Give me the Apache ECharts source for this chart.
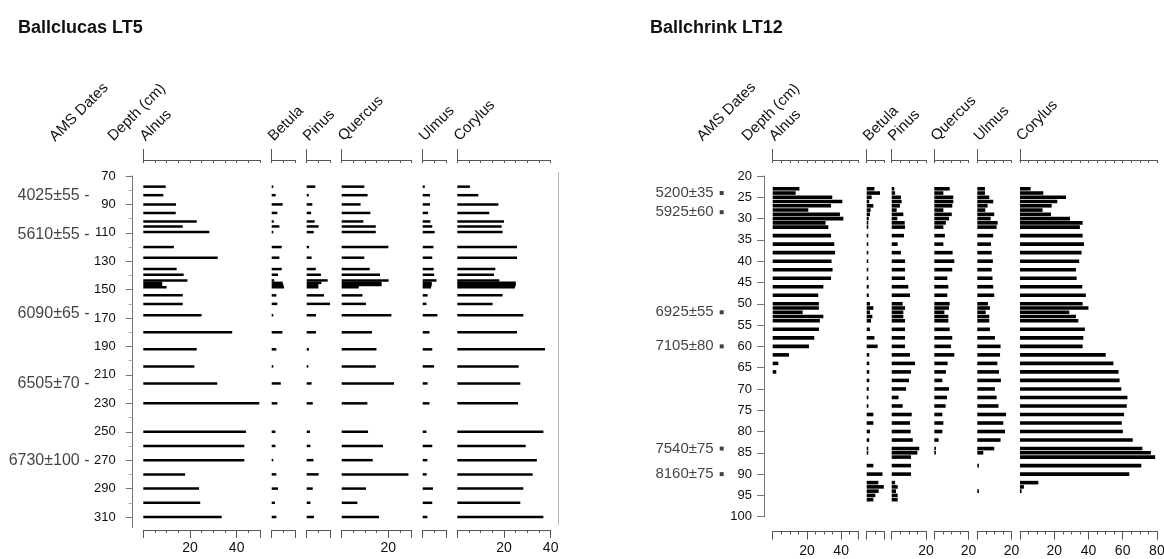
<!DOCTYPE html>
<html><head><meta charset="utf-8">
<script src="https://cdn.jsdelivr.net/npm/echarts@6/dist/echarts.min.js"></script>
<style>html,body{margin:0;padding:0;background:#fff}#c{width:1164px;height:559px}</style>
</head><body><div id="c"></div>
<script>
// ================= DATA =================
const taxa = ['Alnus', 'Betula', 'Pinus', 'Quercus', 'Ulmus', 'Corylus'];

// ---- Ballclucas LT5 ----
const depthsL = [77.5, 83.5, 90, 96, 102, 105.5, 109.5, 120, 127.5, 135.5, 139.5, 143.5, 145.2, 146.7, 148.3, 154, 160, 168, 180, 192, 204, 216, 230, 250, 260, 270, 280, 290, 300, 310];
const alnusL   = [9.6, 8.6, 14, 13.9, 22.9, 16.9, 28.3, 13.1, 31.9, 14.3, 17.3, 18.9, 8.1, 8.1, 10, 16.9, 16.9, 25, 38.1, 22.9, 21.9, 31.7, 49.7, 44, 43.3, 43.3, 17.9, 23.9, 24.4, 33.6];
const betulaL  = [0.7, 1.7, 4.7, 2.4, 0.9, 3.3, 0.7, 4.3, 3.3, 4.3, 2.7, 1.1, 4.7, 5, 5.3, 2, 2.4, 0.6, 4.6, 2, 0.7, 3.9, 2.4, 1.6, 1.6, 0.6, 2, 2.7, 1.4, 2];
const pinusL   = [3.7, 0.9, 2.4, 1.9, 3.4, 5.1, 3, 1, 2.1, 3.9, 6.1, 9, 6.3, 5, 5, 7.4, 10, 4, 4, 1, 0.7, 2.1, 2.6, 1.4, 1.6, 2.9, 5.1, 2.6, 1.6, 3.1];
const quercusL = [9.7, 11.1, 8.1, 12.3, 9.3, 14.6, 14.6, 20, 9.7, 12, 16.4, 20.1, 17.1, 17.1, 7.3, 8.9, 10.4, 21.3, 13, 14.9, 14.6, 22.4, 11, 11.3, 17.7, 13.3, 28.6, 10.4, 6.7, 16];
const ulmusL   = [0.9, 3.1, 3.1, 2.3, 3.3, 4.1, 5.1, 4.6, 4.1, 4.7, 4.9, 5.9, 3.9, 3.9, 3.6, 2.1, 1.6, 6.3, 2.9, 4.1, 4.9, 2.1, 2.9, 1.6, 4.1, 2, 1.7, 4.4, 4.1, 2];
const corylusL = [5.4, 9, 17.6, 13.7, 20, 19, 19.4, 25.6, 25.6, 16.3, 15.7, 18, 25.1, 25.1, 24.7, 19.4, 15.1, 28.3, 25.6, 37.6, 26.3, 27, 26, 36.9, 29.3, 34.1, 32.3, 28.3, 27, 36.9];
const maxL = [50, 10, 10, 30, 10, 40];
const bottomLabelsL = [[20, 40], [], [], [20], [], [20, 40]];
const datesL = ['4025±55', '5610±55', '6090±65', '6505±70', '6730±100'];
const dateDepthsL = [84, 111.5, 167, 216, 270];
const depthLabelsL = [70, 90, 110, 130, 150, 170, 190, 210, 230, 250, 270, 290, 310];
const depthMinorL = [80, 100, 120, 140, 160, 180, 200, 220, 240, 260, 280, 300];

// ---- Ballchrink LT12 ----
const depthsR = [23, 24, 25, 26, 27, 28, 29, 30, 31, 32, 34, 36, 38, 40, 42, 44, 46, 48, 50, 51, 52, 53, 54, 56, 58, 60, 62, 64, 66, 68, 70, 72, 74, 76, 78, 80, 82, 84, 85, 86, 88, 90, 92, 93, 94, 95, 96];
const alnusR   = [15.6, 13.4, 34.8, 40.7, 34.1, 20.8, 39.3, 41.3, 30.9, 32.5, 34.1, 36, 36.4, 34.4, 35, 34.1, 29.6, 26.6, 27, 27, 17.5, 29.6, 27.6, 27, 24.3, 21.2, 9.5, 3.3, 2.1, 0, 0, 0, 0, 0, 0, 0, 0, 0, 0, 0, 0, 0, 0, 0, 0, 0, 0];
const betulaR  = [4.5, 7.8, 2.9, 1.5, 3.9, 2.3, 1.9, 1.2, 0.8, 0.8, 0.8, 0.6, 0.6, 0.6, 0.6, 0.6, 1.2, 1.2, 1.9, 3.9, 1.9, 3.3, 2.5, 1.9, 4.5, 6.4, 1.5, 1.5, 1.5, 1.5, 1.2, 1, 1, 3.9, 3.9, 1.9, 1.5, 0.6, 0.6, 0, 3.9, 9.2, 6.8, 10, 7, 5, 3.9];
const pinusR   = [1.5, 2, 5.4, 5.8, 4.8, 2.9, 6.8, 3.3, 7.6, 7.8, 7.2, 3.5, 5.4, 7.8, 7.8, 7.8, 9.7, 10.7, 6.4, 7.8, 6.8, 6.8, 7.8, 7.8, 7.8, 7.8, 10.7, 13.6, 11.3, 10.1, 8.4, 4, 6.4, 11.7, 10.7, 11.1, 12.3, 16.1, 15, 11.3, 11.3, 11.3, 2, 3.5, 2.5, 3.5, 3.5];
const quercusR = [9, 5.3, 11.1, 11.1, 10.5, 5.3, 10.2, 8.6, 6.8, 5.3, 6.2, 5.3, 10.7, 11.7, 10.5, 7.6, 8.2, 7.6, 9, 8.6, 5.9, 8.2, 8.2, 9, 10.5, 9.7, 11.7, 7.8, 6.8, 4.7, 8.6, 7.4, 6.6, 4.7, 5.3, 4.7, 2.5, 0.6, 0.6, 0, 0, 0, 0, 0, 0, 0, 0];
const ulmusR   = [4.5, 4.5, 7, 9.3, 6, 4.7, 9.9, 7.8, 11.9, 11.3, 9.3, 8, 8.4, 9.1, 8.4, 8.9, 9.3, 9.9, 6.2, 7.4, 4.9, 7, 7, 7.4, 10.3, 13.6, 13.3, 11.7, 12.7, 13.8, 10.3, 11.3, 12.4, 16.8, 15.2, 16.2, 13.6, 9.9, 3.5, 0, 0.5, 0, 0, 0, 0.6, 0, 0];
const corylusR = [6.2, 13.6, 26.9, 21.8, 18.5, 13.2, 18.1, 29.2, 36.6, 35, 36.6, 37.4, 36, 34.6, 32.7, 33.1, 36.4, 38.5, 36.6, 40, 28.8, 32.7, 34.1, 37.9, 37, 36.6, 50.1, 54.6, 57.6, 58.2, 59.2, 62.8, 62.4, 60.8, 59.5, 60.1, 65.9, 71.5, 76.5, 79, 70.9, 63.9, 10.7, 2.3, 0.4, 0, 0];
const maxR = [50, 10, 20, 20, 20, 80];
const bottomLabelsR = [[20, 40], [], [20], [20], [20], [20, 40, 60, 80]];
const datesR = ['5200±35', '5925±60', '6925±55', '7105±80', '7540±75', '8160±75'];
const dateDepthsR = [24, 28.5, 52, 60, 84, 90];
const depthLabelsR = [20, 25, 30, 35, 40, 45, 50, 55, 60, 65, 70, 75, 80, 85, 90, 95, 100];

const titles = ['Ballclucas LT5', 'Ballchrink LT12'];
const headerExtra = ['AMS Dates', 'Depth (cm)'];

// ================= LAYOUT / STYLE =================
const F = 'Liberation Sans, Arial, Helvetica, sans-serif';
const AX = '#555';
const panels = [
  { vals: [alnusL, betulaL, pinusL, quercusL, ulmusL, corylusL], depths: depthsL, max: maxL, labels: bottomLabelsL,
    colLeft: [143.3, 271.7, 306.7, 341.7, 422.7, 457.3], ppp: 2.3334,
    top: 160, bottom: 530, d0: 70, d1: 310, y0: 176, y1: 517, dEnd: 317.5,
    depthX: 132.7, labelMargin: 17, bottomMargin: 11, barH: 2.5,
    dates: datesL, dateDepths: dateDepthsL, dateRight: 90, dateSymbol: false, dateFont: 16,
    depthLabels: depthLabelsL, depthMinor: depthMinorL,
    headerAMS: [57.5, 144.5], headerDepth: [116, 144], title: 18 },
  { vals: [alnusR, betulaR, pinusR, quercusR, ulmusR, corylusR], depths: depthsR, max: maxR, labels: bottomLabelsR,
    colLeft: [772.7, 866.7, 891.7, 934.3, 977.3, 1020], ppp: 1.711,
    top: 160, bottom: 531.5, d0: 20, d1: 100, y0: 176, y1: 516.7, dEnd: 100,
    depthX: 764, labelMargin: 12, bottomMargin: 13, barH: 3.6,
    dates: datesR, dateDepths: dateDepthsR, dateRight: 721.7, dateSymbol: true, dateFont: 15,
    depthLabels: depthLabelsR, depthMinor: [],
    headerAMS: [705, 144], headerDepth: [750, 144], title: 650 }
];

const grids = [], xAxes = [], yAxes = [], series = [], graphics = [];
function addGrid(g) { grids.push(Object.assign({ outerBoundsMode: 'none', containLabel: false, show: false }, g)); return grids.length - 1; }
function hiddenX(gi, min, max) { xAxes.push({ gridIndex: gi, type: 'value', min, max, show: false }); return xAxes.length - 1; }

function barRender(h) {
  return function (params, api) {
    const v = api.value(0), d = api.value(1);
    if (!v) return null;
    const p0 = api.coord([0, d]), p1 = api.coord([v, d]);
    return { type: 'rect', shape: { x: p0[0], y: p0[1] - h / 2, width: Math.max(p1[0] - p0[0], 1.6), height: h }, style: { fill: '#000' } };
  };
}

panels.forEach(P => {
  const k = (P.y1 - P.y0) / (P.d1 - P.d0);
  const ymin = P.d0 - (P.y0 - P.top) / k;
  const ymax = P.d0 + (P.bottom - P.y0) / k;
  // taxon columns
  P.vals.forEach((vals, c) => {
    const max = P.max[c], labs = P.labels[c];
    const gi = addGrid({ left: P.colLeft[c], top: P.top, width: max * P.ppp, height: P.bottom - P.top });
    const base = { gridIndex: gi, type: 'value', min: 0, max, interval: 5, splitLine: { show: false } };
    xAxes.push(Object.assign({}, base, { position: 'bottom',
      axisLine: { show: true, onZero: false, lineStyle: { color: AX, width: 1 } },
      axisTick: { show: true, length: 3, lineStyle: { color: AX } },
      axisLabel: { show: true, margin: P.bottomMargin, fontSize: 14, color: '#111', fontFamily: F, showMinLabel: true, showMaxLabel: true,
        formatter: v => labs.indexOf(v) >= 0 ? String(v) : '' } }));
    const xi = xAxes.length - 1;
    xAxes.push(Object.assign({}, base, { position: 'bottom', axisLine: { show: false, onZero: false },
      axisTick: { show: true, length: 8, customValues: [0].concat(labs, [max]), lineStyle: { color: AX } }, axisLabel: { show: false } }));
    xAxes.push(Object.assign({}, base, { position: 'top',
      axisLine: { show: true, onZero: false, lineStyle: { color: AX, width: 1 } },
      axisTick: { show: true, inside: true, length: 3, lineStyle: { color: AX } }, axisLabel: { show: false } }));
    xAxes.push(Object.assign({}, base, { position: 'top', axisLine: { show: false, onZero: false },
      axisTick: { show: true, length: 11, customValues: [0], lineStyle: { color: AX } }, axisLabel: { show: false } }));
    yAxes.push({ gridIndex: gi, type: 'value', inverse: true, min: ymin, max: ymax, show: false });
    const yi = yAxes.length - 1;
    series.push({ type: 'custom', coordinateSystem: 'cartesian2d', xAxisIndex: xi, yAxisIndex: yi, silent: true,
      encode: { x: 0, y: 1 }, renderItem: barRender(P.barH),
      data: vals.map((v, i) => [v, P.depths[i]]) });
    // rotated header
    graphics.push({ type: 'text', x: P.colLeft[c] + 4.5, y: P.top - 16, rotation: Math.PI / 4,
      style: { text: taxa[c], fontSize: 15, fontFamily: F, fill: '#111', align: 'left', verticalAlign: 'bottom' } });
  });
  // depth axis
  const depthH = (P.dEnd - P.d0) * k;
  const gd = addGrid({ left: P.depthX, top: P.y0, width: 10, height: depthH });
  hiddenX(gd, 0, 1);
  yAxes.push({ gridIndex: gd, type: 'value', inverse: true, min: P.d0, max: P.dEnd, position: 'left',
    splitLine: { show: false },
    axisLine: { show: true, lineStyle: { color: '#777', width: 1 } },
    axisTick: { show: true, length: 7, customValues: P.depthLabels, lineStyle: { color: '#777' } },
    axisLabel: { show: true, customValues: P.depthLabels, margin: P.labelMargin, fontSize: 13, color: '#111', fontFamily: F } });
  if (P.depthMinor.length) {
    yAxes.push({ gridIndex: gd, type: 'value', inverse: true, min: P.d0, max: P.dEnd, position: 'left',
      splitLine: { show: false }, axisLine: { show: false },
      axisTick: { show: true, length: 4, customValues: P.depthMinor, lineStyle: { color: '#aaa' } },
      axisLabel: { show: false } });
  }
  // dates
  const gdt = addGrid({ left: P.dateRight - 80, top: P.y0, width: 80, height: depthH });
  const dx = hiddenX(gdt, 0, 1);
  yAxes.push({ gridIndex: gdt, type: 'value', inverse: true, min: P.d0, max: P.dEnd, show: false });
  series.push({ type: 'scatter', xAxisIndex: dx, yAxisIndex: yAxes.length - 1, silent: true,
    symbol: 'rect', symbolSize: P.dateSymbol ? 4 : 1,
    itemStyle: { color: P.dateSymbol ? '#111' : 'rgba(0,0,0,0)' },
    label: { show: true, position: 'left', distance: P.dateSymbol ? 6 : 0, fontSize: P.dateFont, color: '#111', fontFamily: F,
      formatter: p => P.dateSymbol ? p.name : p.name + ' -' },
    data: P.dates.map((t, i) => ({ name: t, value: [1, P.dateDepths[i]] })) });
  // extra headers
  graphics.push({ type: 'text', x: P.headerAMS[0], y: P.headerAMS[1], rotation: Math.PI / 4,
    style: { text: headerExtra[0], fontSize: 15, fontFamily: F, fill: '#111', align: 'left', verticalAlign: 'bottom' } });
  graphics.push({ type: 'text', x: P.headerDepth[0], y: P.headerDepth[1], rotation: Math.PI / 4,
    style: { text: headerExtra[1], fontSize: 15, fontFamily: F, fill: '#111', align: 'left', verticalAlign: 'bottom' } });
});

// frame line on right of left panel
const gf = addGrid({ left: 558.5, top: 172, width: 1, height: 353 });
hiddenX(gf, 0, 1);
yAxes.push({ gridIndex: gf, type: 'value', min: 0, max: 1, position: 'left', splitLine: { show: false },
  axisLine: { show: true, lineStyle: { color: '#bbb', width: 1 } }, axisTick: { show: false }, axisLabel: { show: false } });

const option = {
  animation: false,
  backgroundColor: '#fff',
  title: [
    { text: titles[0], left: panels[0].title, top: 19, padding: 0, textStyle: { fontSize: 18, fontWeight: 'bold', color: '#111', fontFamily: F } },
    { text: titles[1], left: panels[1].title, top: 19, padding: 0, textStyle: { fontSize: 18, fontWeight: 'bold', color: '#111', fontFamily: F } }
  ],
  grid: grids, xAxis: xAxes, yAxis: yAxes, series: series,
  graphic: { elements: graphics }
};
const chart = echarts.init(document.getElementById('c'), null, { renderer: 'canvas' });
chart.setOption(option);
</script></body></html>
